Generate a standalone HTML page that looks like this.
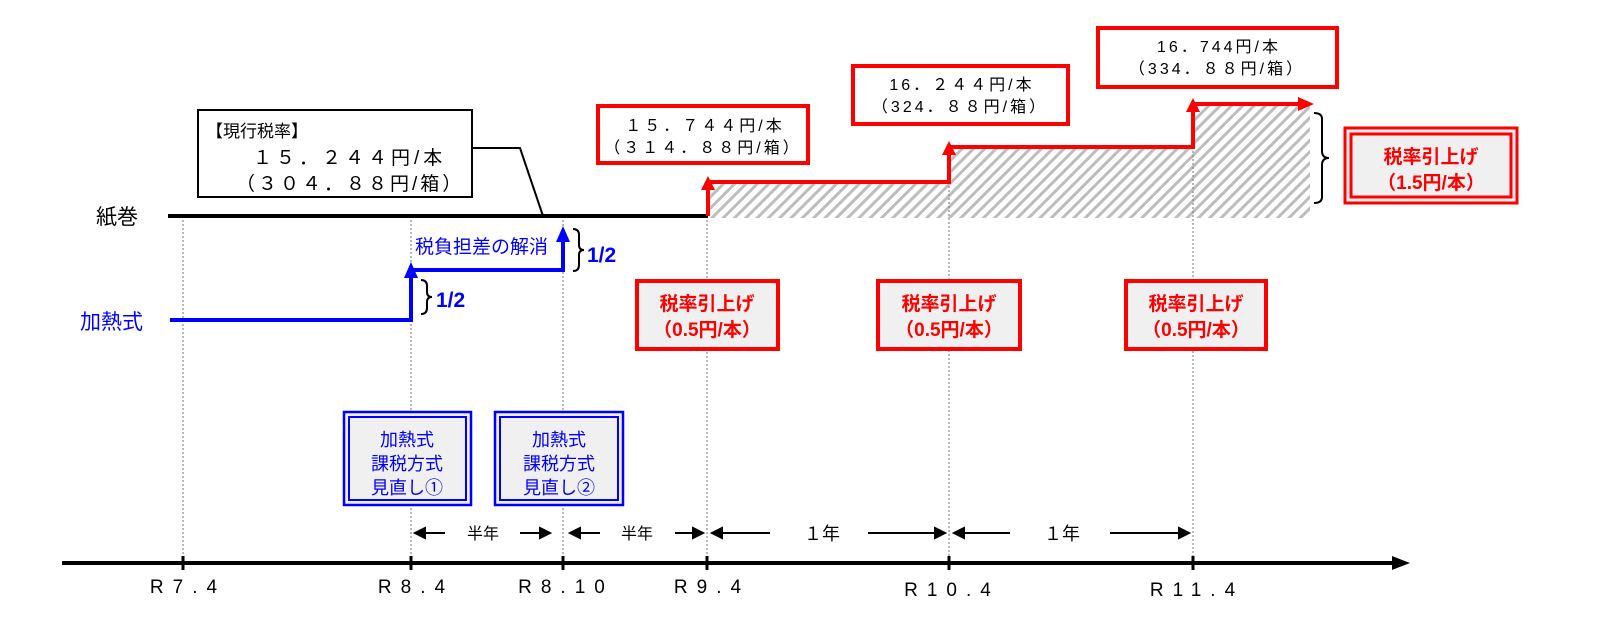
<!DOCTYPE html>
<html><head><meta charset="utf-8"><style>
html,body{margin:0;padding:0;background:#fff;width:1600px;height:617px;overflow:hidden}
text{font-family:"Liberation Sans","Noto Sans CJK JP",sans-serif}
</style></head><body>
<svg width="1600" height="617" viewBox="0 0 1600 617" xmlns="http://www.w3.org/2000/svg">
<defs>
<pattern id="h" width="8" height="8" patternUnits="userSpaceOnUse" patternTransform="rotate(45)">
<rect width="8" height="8" fill="#fff"/><rect width="3" height="8" fill="#bdbdbd"/>
</pattern>
</defs>
<path d="M708 183 H948 V148 H1192 V105 H1310 V218 H708 Z" fill="url(#h)"/>
<g stroke="#888" stroke-width="1.2" stroke-dasharray="2,2">
<line x1="183" y1="216" x2="183" y2="563"/>
<line x1="411" y1="216" x2="411" y2="563"/>
<line x1="563" y1="216" x2="563" y2="563"/>
<line x1="707" y1="216" x2="707" y2="563"/>
<line x1="949" y1="150" x2="949" y2="563"/>
<line x1="1193" y1="107" x2="1193" y2="563"/>
</g>
<line x1="62" y1="563" x2="1395" y2="563" stroke="#000" stroke-width="4"/>
<polygon points="1410,563 1392,556 1392,570" fill="#000"/>
<g stroke="#000" stroke-width="3">
<line x1="183" y1="556" x2="183" y2="570"/><line x1="411" y1="556" x2="411" y2="570"/>
<line x1="563" y1="556" x2="563" y2="570"/><line x1="707" y1="556" x2="707" y2="570"/>
<line x1="949" y1="556" x2="949" y2="570"/><line x1="1193" y1="556" x2="1193" y2="570"/>
</g>
<g font-size="19" fill="#000" text-anchor="middle" letter-spacing="9">
<text x="188" y="593">R7.4</text><text x="416" y="593">R8.4</text>
<text x="566" y="593">R8.10</text><text x="712" y="593">R9.4</text>
<text x="952" y="596">R10.4</text><text x="1197" y="596">R11.4</text>
</g>
<g stroke="#000" stroke-width="2" fill="#000">
<line x1="420" y1="533" x2="445" y2="533"/><polygon points="415,533 425,528 425,538"/>
<line x1="520" y1="533" x2="545" y2="533"/><polygon points="550,533 540,528 540,538"/>
<line x1="575" y1="533" x2="600" y2="533"/><polygon points="570,533 580,528 580,538"/>
<line x1="675" y1="533" x2="698" y2="533"/><polygon points="703,533 693,528 693,538"/>
<line x1="718" y1="533" x2="770" y2="533"/><polygon points="712,533 722,528 722,538"/>
<line x1="868" y1="533" x2="940" y2="533"/><polygon points="945,533 935,528 935,538"/>
<line x1="960" y1="533" x2="1010" y2="533"/><polygon points="954,533 964,528 964,538"/>
<line x1="1110" y1="533" x2="1184" y2="533"/><polygon points="1189,533 1179,528 1179,538"/>
</g>
<g font-size="16" fill="#000" text-anchor="middle">
<text x="483" y="539">半年</text><text x="637" y="539">半年</text>
<text x="822" y="540" font-size="18">１年</text><text x="1062" y="540" font-size="18">１年</text>
</g>
<line x1="168" y1="216" x2="708" y2="216" stroke="#000" stroke-width="4"/>
<text x="96" y="224" font-size="21" fill="#000">紙巻</text>
<path d="M708 216 V182 H949 V147 H1193 V104 H1300" fill="none" stroke="#f00" stroke-width="4"/>
<polygon points="708,176 701,190 715,190" fill="#f00"/>
<polygon points="949,141 942,155 956,155" fill="#f00"/>
<polygon points="1193,98 1186,112 1200,112" fill="#f00"/>
<polygon points="1314,104 1298,97 1298,111" fill="#f00"/>
<path d="M170 320 H411 V270 H563 V238" fill="none" stroke="#00f" stroke-width="4"/>
<polygon points="411,262 404,278 418,278" fill="#00f"/>
<polygon points="563,226 556,242 570,242" fill="#00f"/>
<text x="80" y="329" font-size="21" fill="#00f">加熱式</text>
<text x="415" y="253" font-size="19" fill="#00f">税負担差の解消</text>
<text x="436" y="307" font-size="21" font-weight="bold" fill="#00f">1/2</text>
<text x="587" y="262" font-size="21" font-weight="bold" fill="#00f">1/2</text>
<g fill="none" stroke="#000" stroke-width="2">
<path d="M421 280 q6 0 6 6 v6 q0 5 5 5 q-5 0 -5 5 v6 q0 6 -6 6"/>
<path d="M573 229 q6 0 6 6 v10 q0 5 5 5 q-5 0 -5 5 v10 q0 6 -6 6"/>
<path d="M1314 113 q8 0 8 6 v32 q0 7 7 7 q-7 0 -7 7 v32 q0 6 -8 6"/>
</g>
<rect x="198" y="110" width="274" height="87" fill="#fff" stroke="#000" stroke-width="2"/>
<path d="M472 148 H520 L543 216" fill="none" stroke="#000" stroke-width="2"/>
<text x="206" y="137" font-size="17" fill="#000">【現行税率】</text>
<text x="253" y="164" font-size="19" fill="#000" letter-spacing="4">１５．２４４円/本</text>
<text x="236" y="190" font-size="19" fill="#000" letter-spacing="3">（３０４．８８円/箱）</text>
<g fill="#fff" stroke="#f00" stroke-width="4">
<rect x="598" y="106" width="210" height="57"/>
<rect x="853" y="66" width="215" height="58"/>
<rect x="1098" y="28" width="239" height="59"/>
</g>
<g font-size="16" fill="#000" text-anchor="middle" letter-spacing="3">
<text x="705" y="131">１５．７４４円/本</text><text x="703" y="153">（３１４．８８円/箱）</text>
<text x="962" y="90">16．２４４円/本</text><text x="960" y="112">（324．８８円/箱）</text>
<text x="1219" y="52">16．744円/本</text><text x="1217" y="74">（334．８８円/箱）</text>
</g>
<g fill="#f0f0f0" stroke="#f00" stroke-width="4">
<rect x="637" y="281" width="141" height="68"/>
<rect x="878" y="281" width="142" height="68"/>
<rect x="1126" y="281" width="140" height="68"/>
</g>
<g font-size="19" font-weight="bold" fill="#f00" text-anchor="middle">
<text x="707" y="310">税率引上げ</text><text x="707" y="336">（0.5円/本）</text>
<text x="949" y="310">税率引上げ</text><text x="949" y="336">（0.5円/本）</text>
<text x="1196" y="310">税率引上げ</text><text x="1196" y="336">（0.5円/本）</text>
</g>
<rect x="1345" y="128" width="172" height="75" fill="#f0f0f0" stroke="#f00" stroke-width="3"/>
<rect x="1351" y="134" width="160" height="63" fill="none" stroke="#f00" stroke-width="3"/>
<g font-size="19" font-weight="bold" fill="#f00" text-anchor="middle">
<text x="1431" y="163">税率引上げ</text><text x="1431" y="189">（1.5円/本）</text>
</g>
<g fill="#f0f0f0" stroke="#00f" stroke-width="2.5">
<rect x="344" y="412" width="127" height="93"/>
<rect x="495" y="412" width="128" height="93"/>
</g>
<g fill="none" stroke="#00f" stroke-width="2">
<rect x="349" y="417" width="117" height="83"/>
<rect x="500" y="417" width="118" height="83"/>
</g>
<g font-size="18" fill="#00f" text-anchor="middle">
<text x="407" y="446">加熱式</text><text x="407" y="470">課税方式</text><text x="407" y="494">見直し①</text>
<text x="559" y="446">加熱式</text><text x="559" y="470">課税方式</text><text x="559" y="494">見直し②</text>
</g>
</svg>
</body></html>
